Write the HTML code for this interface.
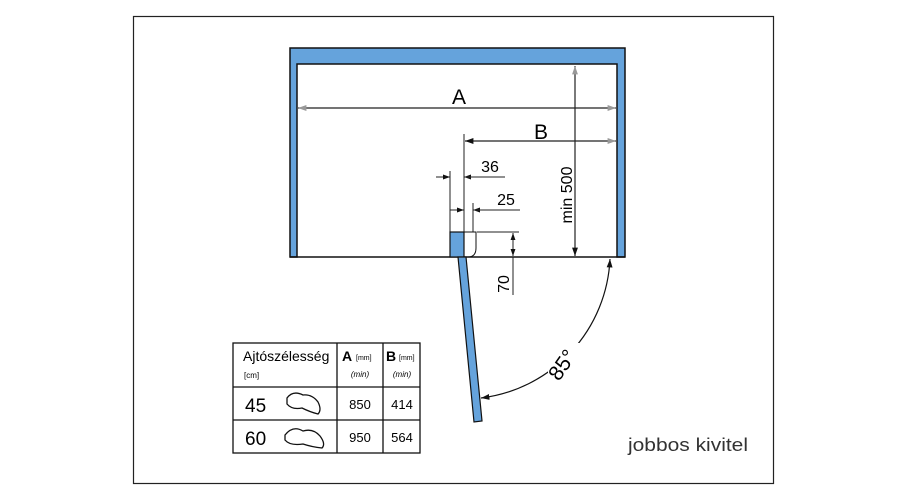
<!DOCTYPE html>
<html><head><style>body{margin:0;background:#fff}svg{display:block}text{font-family:"Liberation Sans",sans-serif}</style></head><body>
<svg width="900" height="500" viewBox="0 0 900 500" xmlns="http://www.w3.org/2000/svg">
<defs>
<marker id="ar" viewBox="0 0 10 10" refX="10" refY="5" markerWidth="7" markerHeight="7" orient="auto-start-reverse"><path d="M0,1.5 L10,5 L0,8.5 z" fill="#111"/></marker>
<marker id="ag" viewBox="0 0 10 10" refX="10" refY="5" markerWidth="7" markerHeight="7" orient="auto-start-reverse"><path d="M0,1.5 L10,5 L0,8.5 z" fill="#999"/></marker>
</defs>
<rect x="133.5" y="16.5" width="640" height="467" fill="none" stroke="#222" stroke-width="1.2"/>
<path d="M290,48 H625 V257 H617 V64 H297 V257 H290 Z" fill="#65a3dc" stroke="#111" stroke-width="1.5"/>
<line x1="290" y1="257" x2="625" y2="257" stroke="#111" stroke-width="1.5"/>
<line x1="298" y1="108" x2="616" y2="108" stroke="#222" stroke-width="1.2" marker-start="url(#ag)" marker-end="url(#ag)"/>
<text x="459" y="104" font-size="21" text-anchor="middle">A</text>
<line x1="464" y1="134" x2="464" y2="257" stroke="#222" stroke-width="1"/>
<line x1="465" y1="141" x2="616" y2="141" stroke="#222" stroke-width="1.2" marker-start="url(#ar)" marker-end="url(#ag)"/>
<text x="541" y="139" font-size="21" text-anchor="middle">B</text>
<line x1="575" y1="66" x2="575" y2="256" stroke="#222" stroke-width="1.2" marker-start="url(#ag)" marker-end="url(#ar)"/>
<text transform="translate(572,195) rotate(-90)" font-size="16" text-anchor="middle">min 500</text>
<line x1="450" y1="171" x2="450" y2="257" stroke="#222" stroke-width="1"/>
<line x1="436" y1="177" x2="450" y2="177" stroke="#222" stroke-width="1" marker-end="url(#ar)"/>
<line x1="475" y1="177" x2="464" y2="177" stroke="#222" stroke-width="1" marker-end="url(#ar)"/>
<line x1="464" y1="177" x2="505" y2="177" stroke="#222" stroke-width="1"/>
<text x="490" y="172" font-size="16" text-anchor="middle">36</text>
<line x1="473" y1="203" x2="473" y2="232" stroke="#222" stroke-width="1"/>
<line x1="450" y1="210" x2="464" y2="210" stroke="#222" stroke-width="1" marker-end="url(#ar)"/>
<line x1="482" y1="210" x2="473" y2="210" stroke="#222" stroke-width="1" marker-end="url(#ar)"/>
<line x1="473" y1="210" x2="520" y2="210" stroke="#222" stroke-width="1"/>
<text x="506" y="205" font-size="16" text-anchor="middle">25</text>
<rect x="450" y="232" width="14" height="25" fill="#65a3dc" stroke="#111" stroke-width="1.2"/>
<path d="M464,232 H476 V248 Q476,257 468,257" fill="none" stroke="#111" stroke-width="1"/>
<line x1="477" y1="232" x2="519" y2="232" stroke="#222" stroke-width="1"/>
<line x1="513" y1="233" x2="513" y2="256" stroke="#222" stroke-width="1" marker-start="url(#ar)" marker-end="url(#ar)"/>
<line x1="513" y1="257" x2="513" y2="295" stroke="#222" stroke-width="1"/>
<text transform="translate(509,284) rotate(-90)" font-size="16" text-anchor="middle">70</text>
<polygon points="458,257 466,257 482,421 474,422" fill="#65a3dc" stroke="#111" stroke-width="1.2"/>
<path d="M610,259 A147,147 0 0 1 481,398" fill="none" stroke="#111" stroke-width="1.2" marker-start="url(#ar)" marker-end="url(#ar)"/>
<rect x="548" y="343" width="34" height="40" fill="#fff"/>
<text transform="translate(568,369) rotate(-55)" font-size="21" text-anchor="middle">85°</text>
<g stroke="#111" stroke-width="1.3" fill="none">
<rect x="233" y="343" width="187" height="110"/>
<line x1="337" y1="343" x2="337" y2="453"/><line x1="383" y1="343" x2="383" y2="453"/>
<line x1="233" y1="387" x2="420" y2="387"/><line x1="233" y1="420" x2="420" y2="420"/>
<path d="M287,398 Q293,390 303,395 Q312,394 318,402 Q322,410 318,414 Q310,412 302,408 Q292,410 287,404 Z"/>
<path d="M285,435 Q293,425 303,431 Q313,428 320,436 Q326,444 322,448 Q312,447 303,444 Q290,446 285,440 Z"/>
</g>
<text x="243" y="361" font-size="14">Ajtószélesség</text>
<text x="244" y="378" font-size="8">[cm]</text>
<text x="342" y="361" font-size="14" font-weight="bold">A</text><text x="356" y="360" font-size="7">[mm]</text>
<text x="360" y="377" font-size="8" font-style="italic" text-anchor="middle">(min)</text>
<text x="386" y="361" font-size="14" font-weight="bold">B</text><text x="399" y="360" font-size="7">[mm]</text>
<text x="402" y="377" font-size="8" font-style="italic" text-anchor="middle">(min)</text>
<text x="245" y="412" font-size="19">45</text>
<text x="245" y="445" font-size="19">60</text>
<text x="360" y="409" font-size="13" text-anchor="middle">850</text>
<text x="402" y="409" font-size="13" text-anchor="middle">414</text>
<text x="360" y="442" font-size="13" text-anchor="middle">950</text>
<text x="402" y="442" font-size="13" text-anchor="middle">564</text>
<text x="628" y="451" font-size="18" fill="#333" textLength="120" lengthAdjust="spacingAndGlyphs">jobbos kivitel</text>
</svg>
</body></html>
